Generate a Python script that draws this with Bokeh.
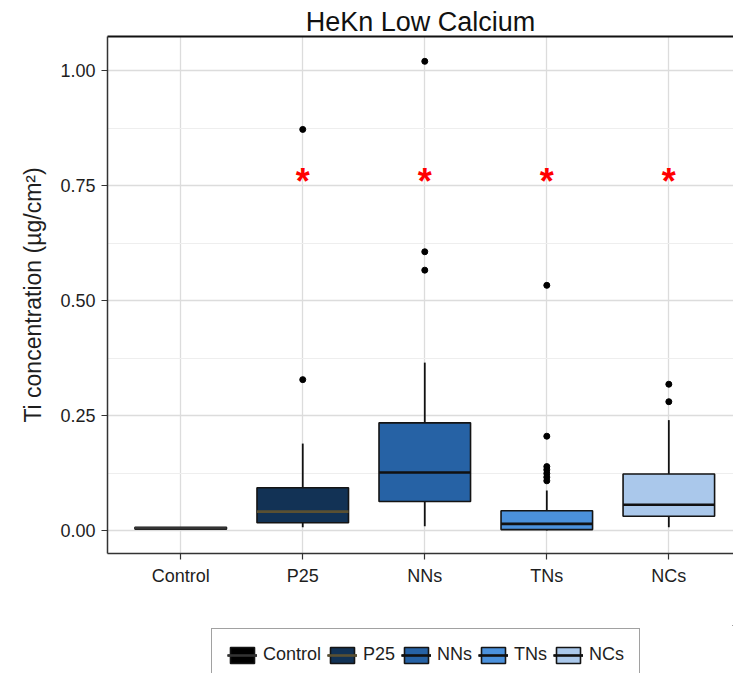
from bokeh.plotting import figure
from bokeh.layouts import column
from bokeh.models import (Range1d, FixedTicker, LinearAxis, Legend, LegendItem,
                          ColumnDataSource)
from bokeh.transform import dodge
from bokeh.core.properties import value
from bokeh.embed import file_html
from bokeh.resources import INLINE

# ---- data ----
categories = ["Control", "P25", "NNs", "TNs", "NCs"]
q1 = [0.003, 0.017, 0.063, 0.002, 0.031]
medians = [0.005, 0.041, 0.126, 0.0145, 0.056]
q3 = [0.007, 0.093, 0.234, 0.043, 0.123]
whisker_low = [0.003, 0.007, 0.009, 0.0, 0.007]
whisker_high = [0.007, 0.189, 0.365, 0.087, 0.240]
outliers_p25 = [0.872, 0.328]
outliers_nns = [1.02, 0.606, 0.566]
outliers_tns = [0.533, 0.205, 0.139, 0.132, 0.124, 0.116, 0.108]
outliers_ncs = [0.318, 0.280]
star_groups = ["P25", "NNs", "TNs", "NCs"]
star_y = [0.765, 0.765, 0.765, 0.765]
y_ticks = [0.0, 0.25, 0.5, 0.75, 1.0]
y_tick_labels = ["0.00", "0.25", "0.50", "0.75", "1.00"]

# ---- styles ----
fill_colors = ["#000000", "#123255", "#2662a5", "#4b91dc", "#aac8eb"]
median_colors = ["#333333", "#5a5032", "#111111", "#111111", "#111111"]
FONT = "Liberation Sans"
TXT = "#1e1e1e"
BOX_W = 0.75

xpos = list(range(1, len(categories) + 1))
pos = {c: i + 1 for i, c in enumerate(categories)}

p = figure(width=733, height=625, output_backend="svg", toolbar_location=None,
           x_range=Range1d(0.4, 5.53), y_range=Range1d(-0.05, 1.074),
           min_border_left=107, min_border_right=0, min_border_top=36,
           min_border_bottom=72, title="HeKn Low Calcium")
p.outline_line_color = None
p.background_fill_color = "white"
p.border_fill_color = "white"

p.title.align = "center"
p.title.text_font = FONT
p.title.text_font_size = "27px"
p.title.text_font_style = "normal"
p.title.text_color = "#111111"
p.title.standoff = 0

# axes
xa = p.xaxis[0]
xa.ticker = FixedTicker(ticks=xpos)
xa.major_label_overrides = {i + 1: c for i, c in enumerate(categories)}
ya = p.yaxis[0]
ya.ticker = FixedTicker(ticks=y_ticks, minor_ticks=[0.125, 0.375, 0.625, 0.875])
ya.major_label_overrides = {t: l for t, l in zip(y_ticks, y_tick_labels)}
ya.axis_label = "Ti concentration (\u00b5g/cm\u00b2)"
ya.axis_label_text_font = FONT
ya.axis_label_text_font_size = "23px"
ya.axis_label_text_font_style = "normal"
ya.axis_label_text_color = TXT
ya.axis_label_standoff = 11
for ax in (xa, ya):
    ax.major_label_text_font = FONT
    ax.major_label_text_font_size = "18px"
    ax.major_label_text_color = TXT
    ax.axis_line_color = "#333333"
    ax.axis_line_width = 1.5
    ax.major_tick_line_color = "#333333"
    ax.major_tick_line_width = 1.2
    ax.major_tick_out = 6
    ax.major_tick_in = 0
    ax.minor_tick_line_color = None
xa.major_label_standoff = 6
ya.major_label_standoff = 6

top_axis = LinearAxis(ticker=FixedTicker(ticks=[]), axis_line_color="#111111",
                      axis_line_width=1.8, major_tick_line_color=None,
                      minor_tick_line_color=None, major_tick_out=0, minor_tick_out=0,
                      major_label_standoff=0)
p.add_layout(top_axis, "above")

# grid
p.xgrid[0].ticker = FixedTicker(ticks=xpos)
p.xgrid[0].grid_line_color = "#dcdcdc"
p.xgrid[0].grid_line_width = 1.3
p.ygrid[0].grid_line_color = "#dcdcdc"
p.ygrid[0].grid_line_width = 1.3
p.ygrid[0].minor_grid_line_color = "#eeeeee"
p.ygrid[0].minor_grid_line_width = 1

# boxes
src = ColumnDataSource(dict(x=xpos, q1=q1, q3=q3, med=medians, lo=whisker_low,
                            hi=whisker_high, fill=fill_colors, mc=median_colors,
                            label=categories))


def draw_boxes(fig):
    fig.segment(x0="x", x1="x", y0="q3", y1="hi", source=src,
                line_color="#111111", line_width=1.8)
    fig.segment(x0="x", x1="x", y0="lo", y1="q1", source=src,
                line_color="#111111", line_width=1.8)
    b = fig.vbar(x="x", width=BOX_W, bottom="q1", top="q3", source=src,
                 fill_color="fill", line_color="#141414", line_width=1.6)
    m = fig.segment(x0=dodge("x", -BOX_W / 2), x1=dodge("x", BOX_W / 2),
                    y0="med", y1="med", source=src, line_color="mc", line_width=2.6)
    return b, m


boxes, meds = draw_boxes(p)

# outliers
ox, oy = [], []
for name, vals in (("P25", outliers_p25), ("NNs", outliers_nns),
                   ("TNs", outliers_tns), ("NCs", outliers_ncs)):
    ox += [pos[name]] * len(vals)
    oy += vals
p.scatter(ox, oy, size=6, fill_color="black", line_color="black")

# significance stars
p.text(x=[pos[g] for g in star_groups], y=star_y, text=["*"] * len(star_groups),
       text_color="red", text_font=value(FONT), text_font_size="36px",
       text_font_style="bold", text_align="center", text_baseline="alphabetic",
       y_offset=3)

# legend strip (separate figure under the plot; its glyphs lie outside its ranges)
lf = figure(width=733, height=48, output_backend="svg", toolbar_location=None,
            x_range=Range1d(-20, -10), y_range=Range1d(-20, -10),
            x_axis_location=None, y_axis_location=None,
            min_border=0, min_border_left=0, min_border_right=0,
            min_border_top=0, min_border_bottom=0)
lf.outline_line_color = None
lf.grid.visible = False
lwhisk = lf.vspan(x="x", source=src, line_color="#111111", line_width=1.8)
lboxes, lmeds = draw_boxes(lf)
items = [LegendItem(label=c, renderers=[lwhisk, lboxes, lmeds], index=i)
         for i, c in enumerate(categories)]
legend = Legend(items=items, orientation="horizontal", location=(104, -8),
                label_text_font=FONT, label_text_font_size="18px",
                label_text_color=TXT, glyph_width=30, glyph_height=20,
                label_height=20, label_standoff=6, spacing=6, padding=15, margin=0,
                border_line_color="#444444", border_line_width=1.2,
                background_fill_alpha=1)
lf.add_layout(legend, "center")

open("out.html", "w").write(file_html(column(p, lf, spacing=0), INLINE))
